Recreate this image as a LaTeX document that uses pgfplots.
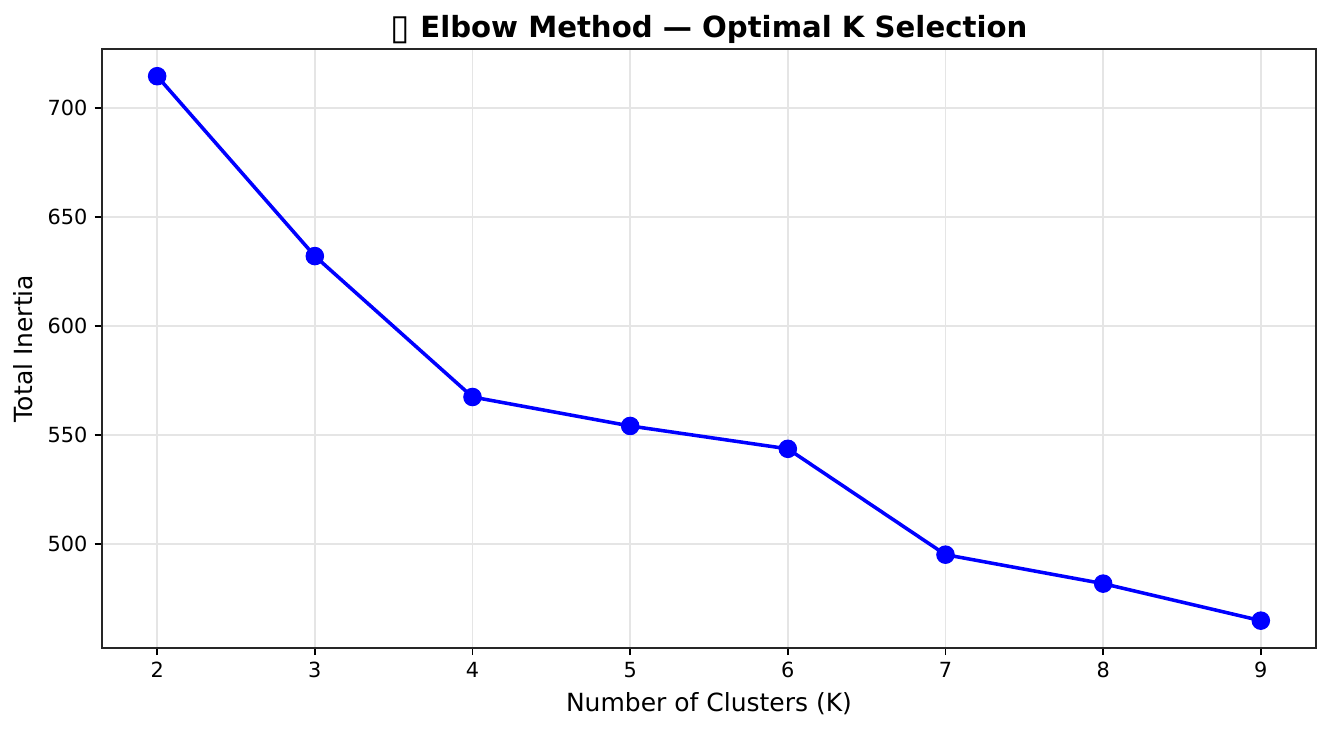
\documentclass[border=0pt]{standalone}
\usepackage{pgfplots}
\pgfplotsset{compat=1.18}
\usepackage{fontspec}
\setmainfont{DejaVu Sans}
\usetikzlibrary{calc}
\begin{document}
\begin{tikzpicture}
\begin{axis}[
  name=ax,
  scale only axis,
  width=582.8pt, height=287.5pt,
  xmin=1.65, xmax=9.35,
  ymin=452.2, ymax=727.2,
  xtick={2,3,4,5,6,7,8,9},
  ytick={500,550,600,650,700},
  /pgf/number format/assume math mode=true,
  tick label style={font=\fontsize{10}{12}\selectfont, black},
  tick align=outside,
  tick pos=left,
  major tick length=3.5pt,
  every tick/.style={black, line width=0.8pt},
  axis line style={line width=0.8pt, black!85},
  grid=major,
  grid style={line width=0.8pt, black!10},
  xlabel={Number of Clusters (K)},
  ylabel={Total Inertia},
  label style={font=\fontsize{12}{14}\selectfont},
  title={\fontsize{14}{16}\selectfont\bfseries\raisebox{-1pt}{\fontsize{17}{17}\selectfont\mdseries ▯} Elbow Method — Optimal K Selection},
  title style={yshift=-7pt},
]
\addplot[blue, line width=1.7pt, mark=*, mark size=4.2pt, mark options={fill=blue, draw=blue, line width=0.5pt}]
coordinates {
(2,714.7) (3,632.1) (4,567.4) (5,554.1) (6,543.6) (7,495.0) (8,481.7) (9,464.7)
};
\end{axis}
\path[use as bounding box] ($(ax.south west)+(-48.96pt,-39.36pt)$) rectangle ($(ax.north east)+(7.68pt,23.52pt)$);
\end{tikzpicture}
\end{document}
